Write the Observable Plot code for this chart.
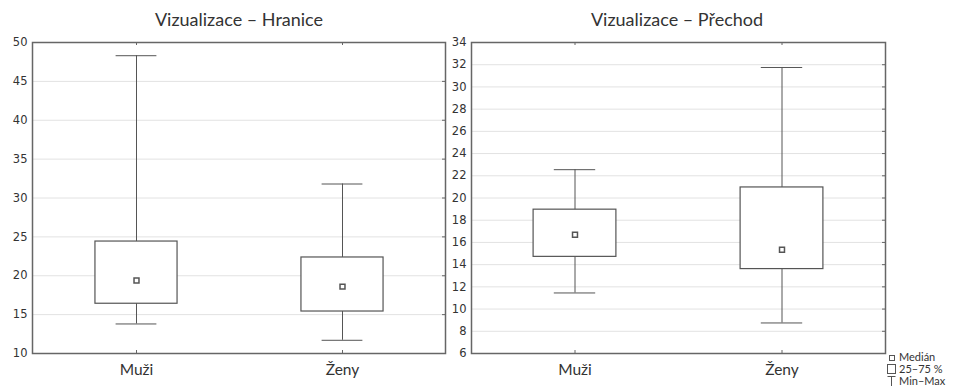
<!DOCTYPE html>
<html><head><meta charset="utf-8">
<script src="https://cdn.jsdelivr.net/npm/d3@7"></script>
<script src="https://cdn.jsdelivr.net/npm/@observablehq/plot@0.6"></script>
<style>
body{margin:0;background:#fff;}
#wrap{position:relative;width:954px;height:389px;overflow:hidden;font-family:Lato,sans-serif;color:#333;}
.title{position:absolute;top:8px;font-size:18px;transform:translateX(-50%);white-space:nowrap;}
.panel{position:absolute;top:0;}
#legend{position:absolute;left:887px;top:351px;font-size:11px;line-height:12px;white-space:nowrap;}
#legend div{display:flex;align-items:center;gap:3px;height:12px;}
#legend svg{display:block;}
</style></head>
<body><div id="wrap">
<div class="title" style="left:239px">Vizualizace – Hranice</div>
<div class="title" style="left:677px">Vizualizace – Přechod</div>
<div class="panel" id="p1" style="left:0"></div>
<div class="panel" id="p2" style="left:450px"></div>
<div id="legend">
<div><svg width="9" height="9"><rect x="2.5" y="2.5" width="5" height="5" fill="white" stroke="#555"/></svg>Medián</div>
<div><svg width="9" height="10"><rect x="0.5" y="0.5" width="8" height="9" fill="white" stroke="#555"/></svg>25–75 %</div>
<div><svg width="9" height="10"><path d="M0.5,0.5H8.5M4.5,0.5V10" stroke="#555" fill="none"/></svg>Min–Max</div>
</div>
</div>
<script>
const categories = ["Muži", "Ženy"];
// Vizualizace – Hranice
const hraniceMin = [13.8, 11.7];
const hraniceQ1 = [16.4, 15.4];
const hraniceMedian = [19.4, 18.6];
const hraniceQ3 = [24.4, 22.35];
const hraniceMax = [48.3, 31.8];
const hraniceTicks = [10, 15, 20, 25, 30, 35, 40, 45, 50];
// Vizualizace – Přechod
const prechodMin = [11.45, 8.75];
const prechodQ1 = [14.7, 13.6];
const prechodMedian = [16.7, 15.35];
const prechodQ3 = [18.95, 20.95];
const prechodMax = [22.55, 31.75];
const prechodTicks = [6, 8, 10, 12, 14, 16, 18, 20, 22, 24, 26, 28, 30, 32, 34];

function panel({min, q1, median, q3, max, ticks, width, marginLeft}) {
  const marginRight = 5, marginTop = 42, marginBottom = 36, height = 389;
  const plotW = width - marginLeft - marginRight;
  const plotH = height - marginTop - marginBottom;
  const bw = plotW / categories.length;
  const data = categories.map((c, i) => ({c, min: min[i], q1: q1[i], median: median[i], q3: q3[i], max: max[i]}));
  return Plot.plot({
    width, height, marginLeft, marginRight, marginTop, marginBottom,
    style: {fontFamily: "DejaVu Sans", fontSize: "11px", color: "#333", background: "transparent"},
    x: {domain: categories, padding: 0, label: null, axis: null},
    y: {domain: [ticks[0], ticks[ticks.length - 1]], label: null, axis: null},
    marks: [
      Plot.gridY(ticks, {stroke: "#e2e2e2", strokeOpacity: 1}),
      Plot.tickY(ticks, {y: d => d, stroke: "#666", insetLeft: plotW - 3}),
      Plot.tickX(categories, {x: d => d, stroke: "#666", insetBottom: plotH - 3}),
      Plot.tickX(categories, {x: d => d, stroke: "#666", insetTop: plotH - 3}),
      Plot.ruleX(data, {x: "c", y1: "min", y2: "max", stroke: "#555"}),
      Plot.tickY(data, {x: "c", y: "min", stroke: "#555", insetLeft: bw * 0.4, insetRight: bw * 0.4}),
      Plot.tickY(data, {x: "c", y: "max", stroke: "#555", insetLeft: bw * 0.4, insetRight: bw * 0.4}),
      Plot.barY(data, {x: "c", y1: "q1", y2: "q3", fill: "white", stroke: "#555", strokeWidth: 1.2, insetLeft: bw * 0.3, insetRight: bw * 0.3}),
      Plot.dot(data, {x: "c", y: "median", symbol: "square", r: 2.8, fill: "white", stroke: "#555"}),
      Plot.axisY(ticks, {tickSize: 0, tickPadding: 5, fontSize: 11.5, fontFamily: "DejaVu Sans", label: null}),
      Plot.axisX(categories, {tickSize: 0, tickPadding: 10, fontSize: 15.5, fontFamily: "Lato", label: null}),
      Plot.frame({stroke: "#666", strokeWidth: 1.5})
    ]
  });
}

document.getElementById("p1").append(panel({
  min: hraniceMin, q1: hraniceQ1, median: hraniceMedian, q3: hraniceQ3, max: hraniceMax,
  ticks: hraniceTicks, width: 450, marginLeft: 32
}));
document.getElementById("p2").append(panel({
  min: prechodMin, q1: prechodQ1, median: prechodMedian, q3: prechodQ3, max: prechodMax,
  ticks: prechodTicks, width: 440, marginLeft: 21
}));
</script>
</body></html>
